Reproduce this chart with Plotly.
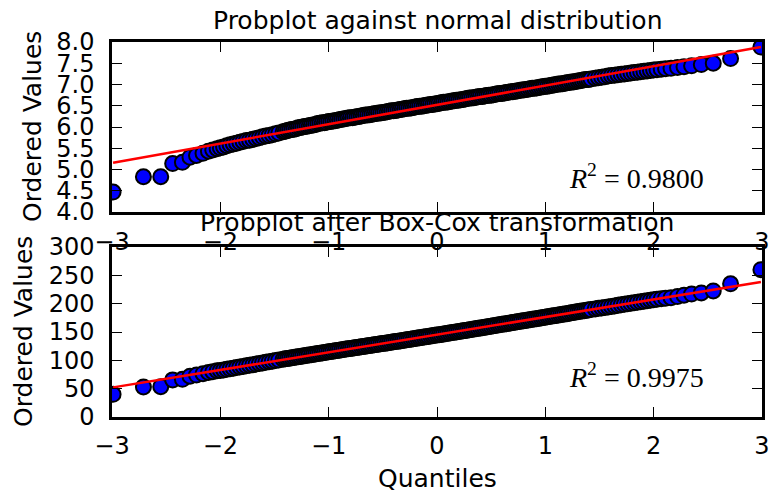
import plotly.graph_objects as go

# theoretical normal quantiles (x), shared by both panels
quantiles = [
    -2.99, -2.71, -2.55, -2.44, -2.35, -2.28, -2.22, -2.16, -2.11, -2.07, -2.03,
    -2.00, -1.97, -1.94, -1.91, -1.88, -1.85, -1.82, -1.79, -1.76, -1.73,
    -1.70, -1.67, -1.64, -1.61, -1.58, -1.55, -1.52, -1.49, -1.46,
    -1.42, -1.40, -1.38, -1.36, -1.34, -1.32, -1.30, -1.28, -1.26, -1.24, -1.22,
    -1.20, -1.18, -1.16, -1.14, -1.12, -1.10, -1.08, -1.06, -1.04, -1.02, -1.00,
    -0.98, -0.96, -0.94, -0.92, -0.90, -0.88, -0.86, -0.84, -0.82, -0.80, -0.78, -0.76,
    -0.74, -0.72, -0.70, -0.68, -0.66, -0.64, -0.62, -0.60, -0.58, -0.56, -0.54, -0.52,
    -0.50, -0.48, -0.46, -0.44, -0.42, -0.40, -0.38, -0.36, -0.34, -0.32, -0.30, -0.28, -0.26,
    -0.24, -0.22, -0.20, -0.18, -0.16, -0.14, -0.12, -0.10, -0.08, -0.06, -0.04, -0.02, 0.00,
    0.02, 0.04, 0.06, 0.08, 0.10, 0.12, 0.14, 0.16, 0.18, 0.20, 0.22, 0.24, 0.26, 0.28, 0.30,
    0.32, 0.34, 0.36, 0.38, 0.40, 0.42, 0.44, 0.46, 0.48, 0.50, 0.52, 0.54, 0.56, 0.58, 0.60,
    0.62, 0.64, 0.66, 0.68, 0.70, 0.72, 0.74, 0.76, 0.78, 0.80, 0.82, 0.84, 0.86, 0.88, 0.90,
    0.92, 0.94, 0.96, 0.98, 1.00, 1.02, 1.04, 1.06, 1.08, 1.10, 1.12, 1.14, 1.16, 1.18, 1.20,
    1.22, 1.24, 1.26, 1.28, 1.30, 1.32, 1.34, 1.36, 1.38, 1.40, 1.42,
    1.46, 1.49, 1.52, 1.55, 1.58, 1.61, 1.64, 1.67, 1.70, 1.73,
    1.76, 1.79, 1.82, 1.85, 1.88, 1.91, 1.94, 1.97, 2.00,
    2.03, 2.07, 2.11, 2.16, 2.22, 2.28, 2.35, 2.44, 2.55, 2.71, 2.99,
]

# ordered sample values (top panel)
ordered_raw = [
    4.47, 4.83, 4.83, 5.14, 5.17, 5.29, 5.33, 5.38, 5.43, 5.46, 5.49,
    5.51, 5.53, 5.56, 5.58, 5.60, 5.62, 5.64, 5.66, 5.68, 5.69,
    5.71, 5.73, 5.75, 5.77, 5.79, 5.80, 5.82, 5.84, 5.86,
    5.89, 5.90, 5.92, 5.93, 5.94, 5.95, 5.96, 5.98, 5.99, 6.00, 6.01,
    6.02, 6.03, 6.04, 6.05, 6.06, 6.08, 6.09, 6.10, 6.10, 6.11, 6.13,
    6.13, 6.14, 6.15, 6.16, 6.17, 6.18, 6.19, 6.20, 6.21, 6.22, 6.22, 6.23,
    6.24, 6.25, 6.26, 6.27, 6.28, 6.28, 6.29, 6.30, 6.31, 6.32, 6.33, 6.33,
    6.34, 6.35, 6.36, 6.37, 6.38, 6.38, 6.39, 6.40, 6.41, 6.42, 6.43, 6.44, 6.44,
    6.45, 6.46, 6.47, 6.48, 6.49, 6.49, 6.50, 6.51, 6.52, 6.53, 6.53, 6.54, 6.55,
    6.56, 6.57, 6.58, 6.58, 6.59, 6.60, 6.61, 6.62, 6.63, 6.63, 6.64, 6.65, 6.66, 6.67, 6.68,
    6.68, 6.69, 6.70, 6.71, 6.72, 6.72, 6.73, 6.74, 6.75, 6.75, 6.76, 6.77, 6.78, 6.79, 6.79,
    6.80, 6.81, 6.82, 6.83, 6.83, 6.84, 6.85, 6.86, 6.87, 6.87, 6.88, 6.89, 6.90, 6.91, 6.91,
    6.92, 6.93, 6.94, 6.95, 6.96, 6.96, 6.97, 6.98, 6.99, 7.00, 7.01, 7.01, 7.02, 7.03, 7.04,
    7.05, 7.06, 7.06, 7.07, 7.08, 7.09, 7.10, 7.11, 7.12, 7.12, 7.13,
    7.15, 7.16, 7.17, 7.18, 7.20, 7.21, 7.22, 7.23, 7.24, 7.25,
    7.26, 7.27, 7.28, 7.29, 7.30, 7.31, 7.32, 7.33, 7.34,
    7.35, 7.36, 7.37, 7.38, 7.40, 7.42, 7.44, 7.47, 7.50, 7.61, 7.88,
]

# ordered values after Box-Cox (bottom panel)
ordered_boxcox = [
    40.0, 53.0, 53.5, 65.5, 66.5, 72.0, 74.0, 76.5, 78.5, 80.0, 81.5,
    82.1, 83.1, 84.1, 85.1, 86.1, 87.2, 88.2, 89.2, 90.3, 91.3,
    92.3, 93.4, 94.4, 95.4, 96.5, 97.5, 98.5, 99.6, 100.6,
    101.9, 102.6, 103.2, 103.8, 104.4, 105.0, 105.7, 106.3, 106.9, 107.5, 108.2,
    108.8, 109.4, 110.0, 110.7, 111.3, 111.9, 112.5, 113.1, 113.8, 114.4, 115.0,
    115.5, 116.1, 116.8, 117.4, 118.0, 118.5, 119.2, 119.8, 120.3, 120.9, 121.5, 122.1,
    122.7, 123.2, 123.8, 124.4, 125.0, 125.6, 126.2, 126.7, 127.4, 127.9, 128.5, 129.1,
    129.6, 130.2, 130.8, 131.4, 131.9, 132.6, 133.2, 133.7, 134.3, 134.9, 135.6, 136.2, 136.7,
    137.3, 138.0, 138.6, 139.2, 139.7, 140.3, 141.0, 141.6, 142.2, 142.8, 143.5, 144.1, 144.7,
    145.2, 145.8, 146.5, 147.1, 147.7, 148.3, 149.0, 149.6, 150.1, 150.7, 151.3, 152.0, 152.6, 153.2, 153.8,
    154.5, 155.1, 155.7, 156.4, 157.0, 157.7, 158.3, 158.9, 159.6, 160.3, 160.9, 161.6, 162.2, 162.8, 163.5,
    164.1, 164.7, 165.4, 166.0, 166.7, 167.3, 167.9, 168.5, 169.2, 169.8, 170.4, 171.0, 171.7, 172.4, 173.0,
    173.6, 174.2, 174.9, 175.5, 176.1, 176.8, 177.4, 178.1, 178.7, 179.3, 179.9, 180.6, 181.2, 181.8, 182.4,
    183.2, 183.9, 184.5, 185.1, 185.8, 186.5, 187.1, 187.7, 188.4, 189.0, 189.6,
    190.8, 191.7, 192.5, 193.4, 194.3, 195.2, 196.1, 197.0, 197.9, 198.8,
    199.7, 200.6, 201.5, 202.4, 203.3, 204.2, 205.1, 206.0, 206.8,
    207.8, 208.8, 209.7, 210.6, 212.5, 215.0, 217.0, 219.0, 222.5, 235.0, 260.0,
]

assert len(quantiles) == len(ordered_raw) == len(ordered_boxcox)

# least-squares fit (slope, intercept) and R^2 of each panel
fit_raw = (0.455, 6.52)
fit_boxcox = (31.1, 145.3)
r2_raw = "0.9800"
r2_boxcox = "0.9975"

titles = ["Probplot against normal distribution", "Probplot after Box-Cox transformation"]

W, H = 769, 493
FONT = "DejaVu Sans"

fig = go.Figure()

panels = [
    ("x", "y", ordered_raw, fit_raw),
    ("x2", "y2", ordered_boxcox, fit_boxcox),
]
for xa, ya, vals, (slope, icpt) in panels:
    fig.add_trace(go.Scatter(
        x=quantiles, y=vals, mode="markers", xaxis=xa, yaxis=ya,
        marker=dict(size=15, color="#0000ff", line=dict(color="black", width=2)),
        showlegend=False, hoverinfo="skip",
    ))
    xs = [quantiles[0], quantiles[-1]]
    fig.add_trace(go.Scatter(
        x=xs, y=[icpt + slope * v for v in xs], mode="lines", xaxis=xa, yaxis=ya,
        line=dict(color="#ff0000", width=2.5), showlegend=False, hoverinfo="skip",
    ))

axis_style = dict(
    showgrid=False, zeroline=False, showline=True, linecolor="black", linewidth=2.5,
    mirror="allticks", ticks="inside", ticklen=10, tickwidth=1.3, tickcolor="black",
    tickfont=dict(family=FONT, size=24, color="black"), automargin=False,
    ticklabeloverflow="allow",
)

x_dom = [112 / W, 762 / W]
top_dom = [1 - 212 / H, 1 - 42 / H]
bot_dom = [1 - 417 / H, 1 - 247 / H]

fig.update_layout(
    width=W, height=H,
    margin=dict(l=0, r=0, t=0, b=0, autoexpand=False),
    paper_bgcolor="white", plot_bgcolor="white",
    xaxis=dict(domain=x_dom, anchor="y", range=[-3, 3], dtick=1, tick0=0,
               ticklabelstandoff=6, **axis_style),
    yaxis=dict(domain=top_dom, anchor="x", range=[4, 8], dtick=0.5, tick0=4,
               tickformat=".1f", ticklabelstandoff=10, **axis_style),
    xaxis2=dict(domain=x_dom, anchor="y2", range=[-3, 3], dtick=1, tick0=0,
                ticklabelstandoff=5, **axis_style),
    yaxis2=dict(domain=bot_dom, anchor="x2", range=[0, 300], dtick=50, tick0=0,
                ticklabelstandoff=10, **axis_style),
)

txt = dict(family=FONT, size=25, color="black")
mid_x = (112 + 762) / 2 / W
annotations = [
    dict(text=titles[0], x=mid_x, y=1 - 20 / H, xref="paper", yref="paper",
         showarrow=False, font=txt, xanchor="center", yanchor="middle"),
    dict(text=titles[1], x=mid_x, y=1 - 223 / H, xref="paper", yref="paper",
         showarrow=False, font=txt, xanchor="center", yanchor="middle"),
    dict(text="Ordered Values", x=33 / W, y=1 - 127 / H, xref="paper", yref="paper",
         showarrow=False, font=txt, textangle=-90, xanchor="center", yanchor="middle"),
    dict(text="Ordered Values", x=23 / W, y=1 - 332 / H, xref="paper", yref="paper",
         showarrow=False, font=txt, textangle=-90, xanchor="center", yanchor="middle"),
    dict(text="Quantiles", x=mid_x, y=1 - 478 / H, xref="paper", yref="paper",
         showarrow=False, font=txt, xanchor="center", yanchor="middle"),
]
r2_font = dict(family="Liberation Serif", size=28, color="black")
annotations.append(dict(text="<i>R</i><sup>2</sup> = " + r2_raw, x=1.2, y=4.38,
                        xref="x", yref="y", showarrow=False, font=r2_font,
                        xanchor="left", yanchor="bottom"))
annotations.append(dict(text="<i>R</i><sup>2</sup> = " + r2_boxcox, x=1.2, y=39,
                        xref="x2", yref="y2", showarrow=False, font=r2_font,
                        xanchor="left", yanchor="bottom"))
fig.update_layout(annotations=annotations)

# drop the page's default body margin so the figure sits at the window's corner
fig.write_html("out.html", config={"displayModeBar": False},
               post_script="document.body.style.margin = '0';")
